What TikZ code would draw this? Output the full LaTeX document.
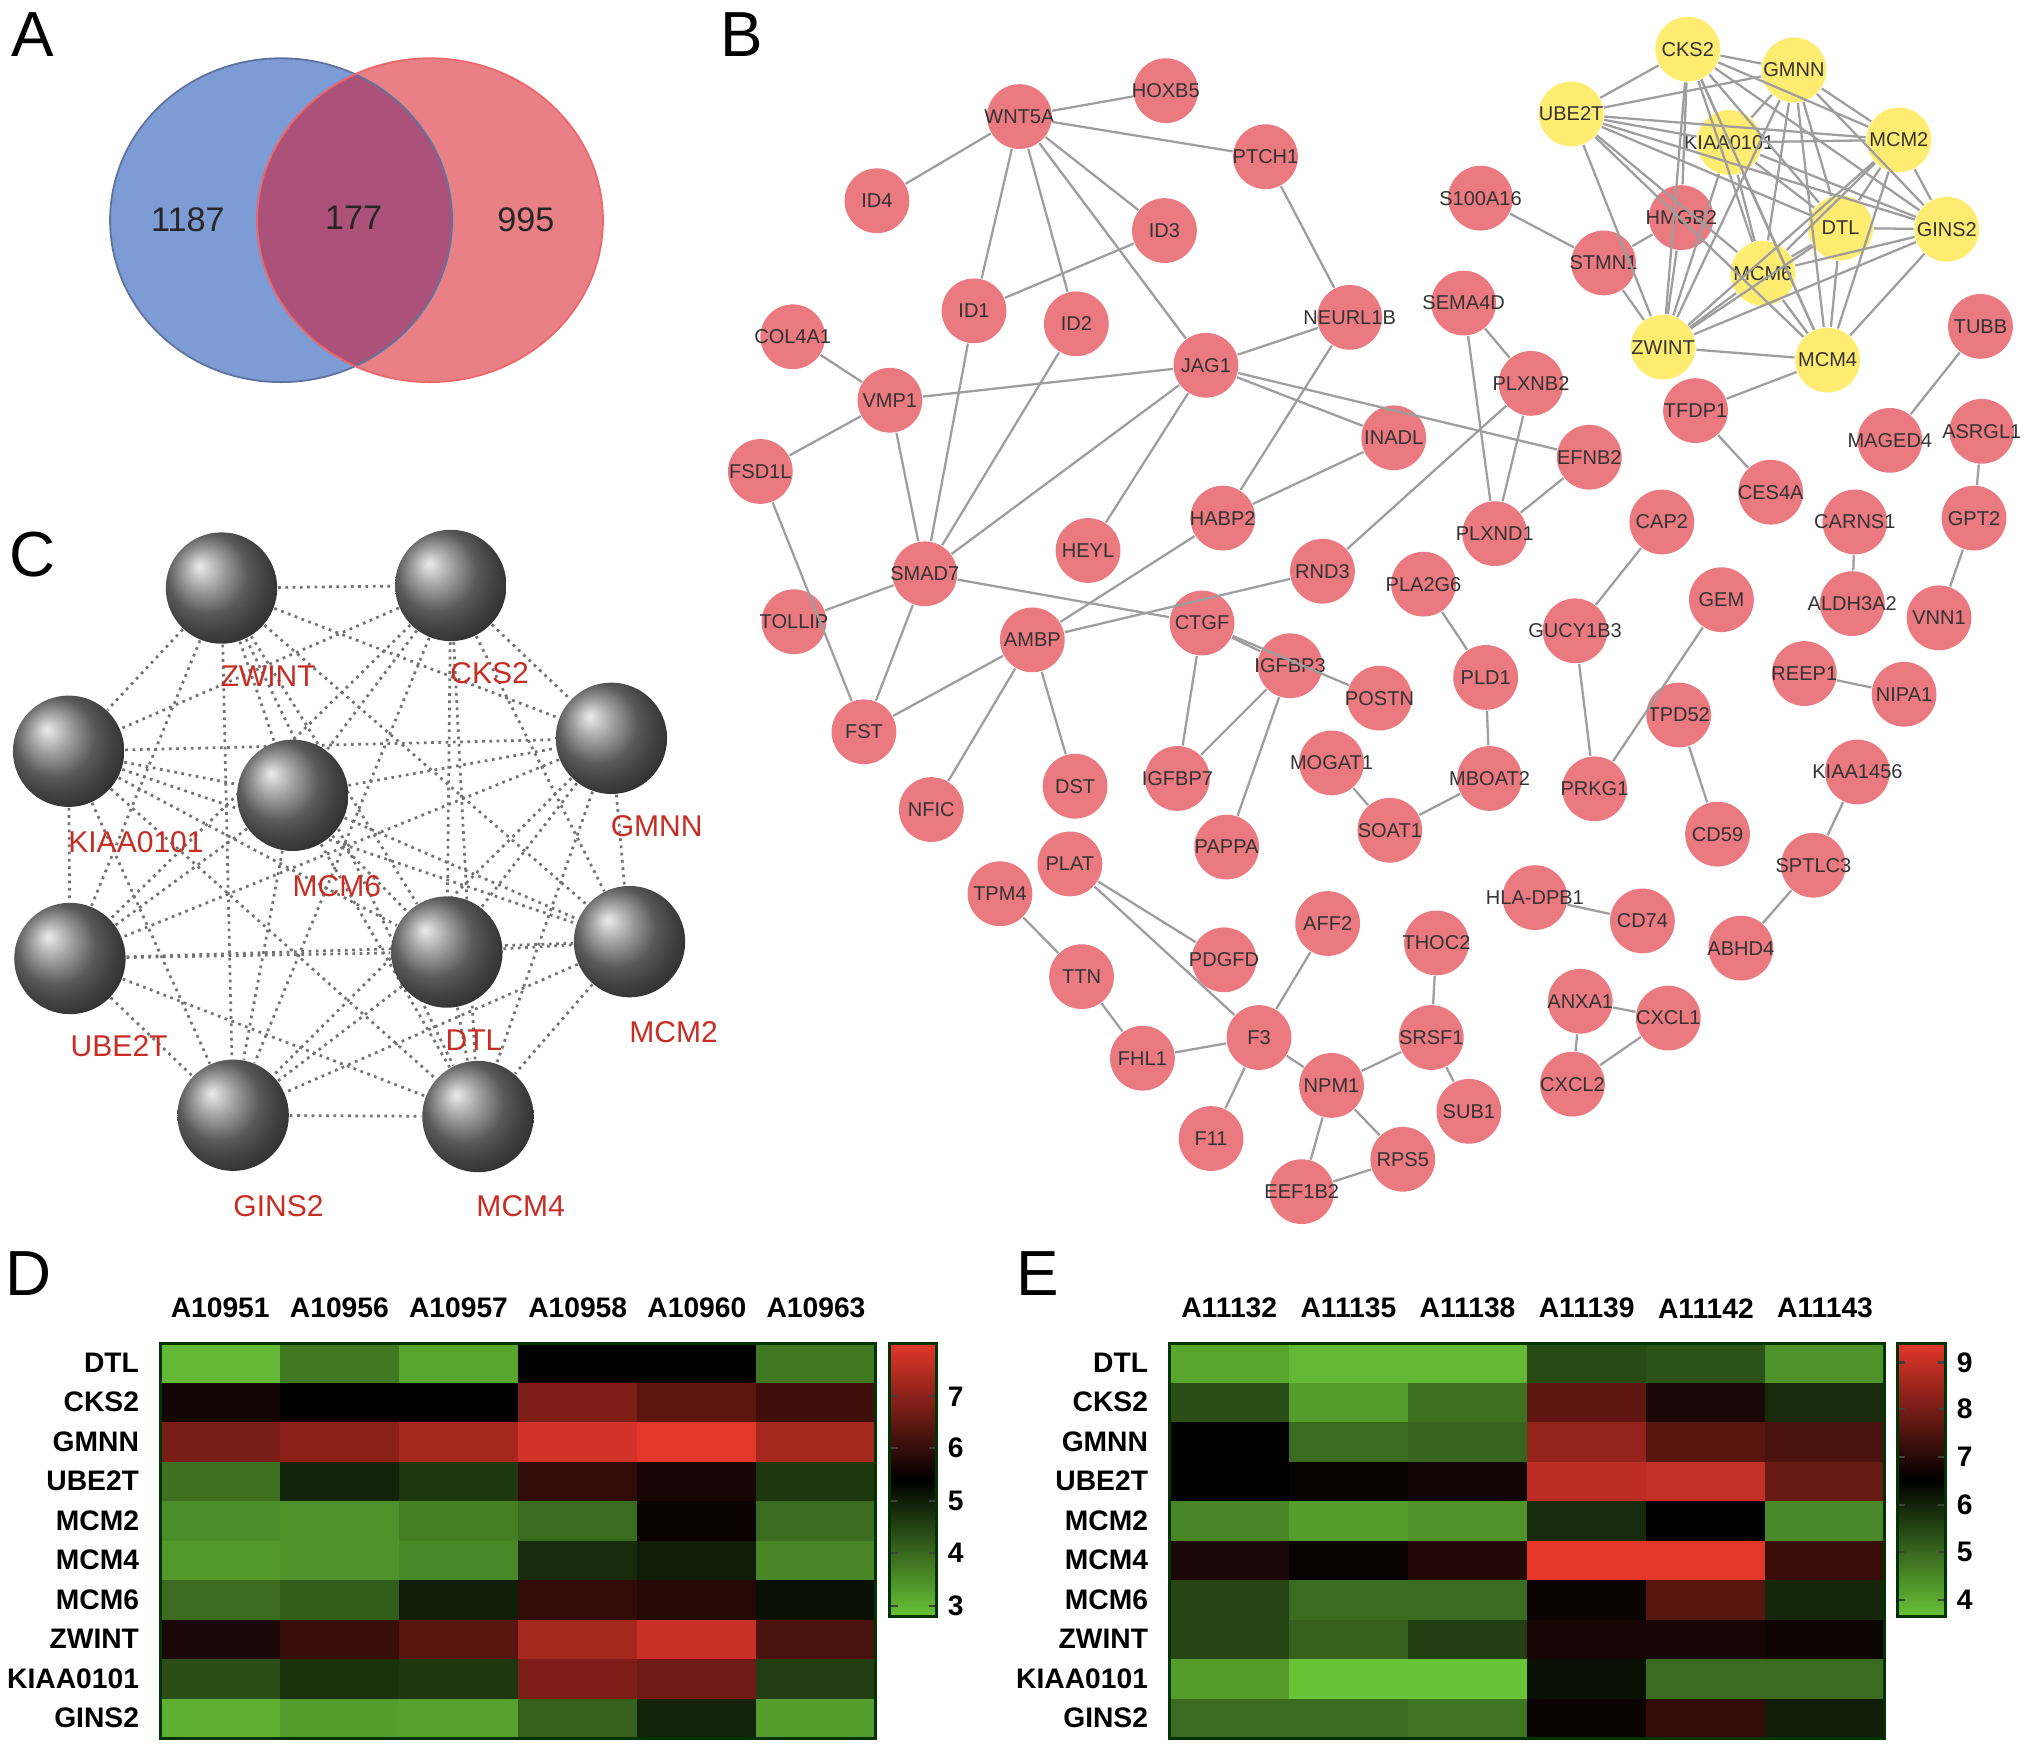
\documentclass[tikz,border=0pt]{standalone}
\usepackage{fontspec}
\setmainfont{Liberation Sans}
\usetikzlibrary{shapes,positioning,backgrounds}
\definecolor{genered}{RGB}{234,122,128}
\definecolor{hubyellow}{RGB}{255,236,112}
\definecolor{linkgray}{RGB}{158,158,158}
\definecolor{namered}{RGB}{200,45,35}
\definecolor{hmg}{RGB}{105,195,55}
\definecolor{hmr}{RGB}{228,55,42}
\definecolor{vennblue}{RGB}{125,155,212}
\definecolor{vennpink}{RGB}{233,128,134}
\definecolor{vennmix}{RGB}{172,82,122}
\tikzstyle{panel} = [font=\fontsize{14}{14}\selectfont, inner sep=0pt]
\tikzstyle{vennnum} = [font=\fontsize{7.5}{8}\selectfont, text=black!85]
\tikzstyle{gene} = [circle, fill=genered, minimum size=5mm, inner sep=0pt,
    text=black!80, font=\fontsize{4.4}{5}\selectfont,
    execute at begin node={\hbox to 0pt\bgroup\hss},
    execute at end node={\hss\egroup}]
\tikzstyle{hub} = [gene, fill=hubyellow]
\tikzstyle{ppi} = [draw=linkgray, line width=0.5pt]
\tikzstyle{hubball} = [circle, minimum size=8.6mm, inner sep=0pt,
    shading=ball, ball color=black!50]
\tikzstyle{hubname} = [text=namered, font=\fontsize{6.6}{7}\selectfont]
\tikzstyle{coexp} = [draw=black!55, line width=0.6pt, densely dotted]
\tikzstyle{hmrow} = [anchor=east, inner sep=0pt, font=\bfseries\fontsize{6.2}{7}\selectfont]
\tikzstyle{hmcol} = [inner sep=0pt, font=\bfseries\fontsize{6.2}{7}\selectfont]
\tikzstyle{hmtick} = [anchor=west, inner sep=0pt, font=\bfseries\fontsize{6.2}{7}\selectfont]
\tikzstyle{cbtick} = [black!75, line width=0.5pt]

\begin{document}
\begin{tikzpicture}[x=0.1mm, y=-0.1mm]
    \useasboundingbox (0,0) rectangle (1568,1353);

    % A: venn
    \node[panel] (labA) at (25,27) {A};
    \fill[vennblue] (217,170) ellipse [x radius=13.2mm, y radius=12.5mm];
    \fill[vennpink] (332,170) ellipse [x radius=13.35mm, y radius=12.5mm];
    \begin{scope}
        \clip (217,170) ellipse [x radius=13.2mm, y radius=12.5mm];
        \fill[vennmix] (332,170) ellipse [x radius=13.35mm, y radius=12.5mm];
    \end{scope}
    \draw[vennblue!75!black, line width=0.4pt] (217,170) ellipse [x radius=13.2mm, y radius=12.5mm];
    \draw[vennpink!80!red, line width=0.4pt] (332,170) ellipse [x radius=13.35mm, y radius=12.5mm];
    \node[vennnum] (nblue) at (145,170) {1187};
    \node[vennnum] (nboth) at (273,168) {177};
    \node[vennnum] (nred) at (406,170) {995};

    % B: network
    \node[panel] (labB) at (573,27) {B};
    \node[gene] (HOXB5) at (900,70) {HOXB5};
    \node[gene] (WNT5A) at (787,90) {WNT5A};
    \node[gene] (PTCH1) at (977,121) {PTCH1};
    \node[gene] (ID4) at (677,155) {ID4};
    \node[gene] (ID3) at (899,178) {ID3};
    \node[gene] (ID1) at (752,240) {ID1};
    \node[gene] (ID2) at (831,250) {ID2};
    \node[gene] (S100A16) at (1143,153) {S100A16};
    \node[gene] (HMGB2) at (1298,168) {HMGB2};
    \node[gene] (STMN1) at (1238,203) {STMN1};
    \node[gene] (SEMA4D) at (1130,234) {SEMA4D};
    \node[gene] (NEURL1B) at (1042,245) {NEURL1B};
    \node[gene] (COL4A1) at (612,260) {COL4A1};
    \node[gene] (JAG1) at (931,282) {JAG1};
    \node[gene] (VMP1) at (687,309) {VMP1};
    \node[gene] (PLXNB2) at (1182,296) {PLXNB2};
    \node[gene] (TFDP1) at (1309,317) {TFDP1};
    \node[gene] (TUBB) at (1529,252) {TUBB};
    \node[gene] (MAGED4) at (1459,340) {MAGED4};
    \node[gene] (ASRGL1) at (1530,333) {ASRGL1};
    \node[gene] (INADL) at (1076,338) {INADL};
    \node[gene] (EFNB2) at (1227,353) {EFNB2};
    \node[gene] (FSD1L) at (587,364) {FSD1L};
    \node[gene] (CES4A) at (1367,380) {CES4A};
    \node[gene] (HABP2) at (944,400) {HABP2};
    \node[gene] (HEYL) at (840,425) {HEYL};
    \node[gene] (PLXND1) at (1154,412) {PLXND1};
    \node[gene] (CAP2) at (1283,403) {CAP2};
    \node[gene] (CARNS1) at (1432,403) {CARNS1};
    \node[gene] (GPT2) at (1524,400) {GPT2};
    \node[gene] (SMAD7) at (714,443) {SMAD7};
    \node[gene] (RND3) at (1021,441) {RND3};
    \node[gene] (PLA2G6) at (1099,451) {PLA2G6};
    \node[gene] (TOLLIP) at (613,480) {TOLLIP};
    \node[gene] (CTGF) at (928,481) {CTGF};
    \node[gene] (AMBP) at (797,494) {AMBP};
    \node[gene] (GUCY1B3) at (1216,487) {GUCY1B3};
    \node[gene] (GEM) at (1329,463) {GEM};
    \node[gene] (ALDH3A2) at (1430,466) {ALDH3A2};
    \node[gene] (VNN1) at (1497,477) {VNN1};
    \node[gene] (IGFBP3) at (996,514) {IGFBP3};
    \node[gene] (POSTN) at (1065,539) {POSTN};
    \node[gene] (PLD1) at (1147,523) {PLD1};
    \node[gene] (REEP1) at (1393,520) {REEP1};
    \node[gene] (NIPA1) at (1470,536) {NIPA1};
    \node[gene] (TPD52) at (1296,552) {TPD52};
    \node[gene] (FST) at (667,565) {FST};
    \node[gene] (DST) at (830,607) {DST};
    \node[gene] (IGFBP7) at (909,601) {IGFBP7};
    \node[gene] (MOGAT1) at (1028,589) {MOGAT1};
    \node[gene] (MBOAT2) at (1150,601) {MBOAT2};
    \node[gene] (PRKG1) at (1231,609) {PRKG1};
    \node[gene] (KIAA1456) at (1434,596) {KIAA1456};
    \node[gene] (NFIC) at (719,625) {NFIC};
    \node[gene] (SOAT1) at (1073,641) {SOAT1};
    \node[gene] (CD59) at (1326,644) {CD59};
    \node[gene] (PAPPA) at (947,654) {PAPPA};
    \node[gene] (PLAT) at (826,667) {PLAT};
    \node[gene] (SPTLC3) at (1400,668) {SPTLC3};
    \node[gene] (TPM4) at (772,690) {TPM4};
    \node[gene] (HLA-DPB1) at (1185,693) {HLA-DPB1};
    \node[gene] (CD74) at (1268,711) {CD74};
    \node[gene] (AFF2) at (1025,713) {AFF2};
    \node[gene] (THOC2) at (1109,728) {THOC2};
    \node[gene] (ABHD4) at (1344,732) {ABHD4};
    \node[gene] (PDGFD) at (945,741) {PDGFD};
    \node[gene] (TTN) at (835,754) {TTN};
    \node[gene] (ANXA1) at (1220,773) {ANXA1};
    \node[gene] (CXCL1) at (1288,786) {CXCL1};
    \node[gene] (SRSF1) at (1105,801) {SRSF1};
    \node[gene] (F3) at (972,801) {F3};
    \node[gene] (FHL1) at (882,817) {FHL1};
    \node[gene] (NPM1) at (1028,838) {NPM1};
    \node[gene] (CXCL2) at (1214,837) {CXCL2};
    \node[gene] (SUB1) at (1134,858) {SUB1};
    \node[gene] (F11) at (935,879) {F11};
    \node[gene] (RPS5) at (1083,895) {RPS5};
    \node[gene] (EEF1B2) at (1005,920) {EEF1B2};

    \node[hub] (CKS2) at (1303,38) {CKS2};
    \node[hub] (GMNN) at (1385,54) {GMNN};
    \node[hub] (UBE2T) at (1213,88) {UBE2T};
    \node[hub] (KIAA0101) at (1335,110) {KIAA0101};
    \node[hub] (MCM2) at (1466,108) {MCM2};
    \node[hub] (DTL) at (1421,176) {DTL};
    \node[hub] (GINS2) at (1503,177) {GINS2};
    \node[hub] (MCM6) at (1361,211) {MCM6};
    \node[hub] (ZWINT) at (1284,268) {ZWINT};
    \node[hub] (MCM4) at (1411,278) {MCM4};

    \path[ppi] (WNT5A) -- (HOXB5);
    \path[ppi] (WNT5A) -- (PTCH1);
    \path[ppi] (WNT5A) -- (ID4);
    \path[ppi] (WNT5A) -- (ID1);
    \path[ppi] (WNT5A) -- (ID2);
    \path[ppi] (WNT5A) -- (ID3);
    \path[ppi] (WNT5A) -- (JAG1);
    \path[ppi] (ID3) -- (ID1);
    \path[ppi] (PTCH1) -- (NEURL1B);
    \path[ppi] (COL4A1) -- (VMP1);
    \path[ppi] (VMP1) -- (JAG1);
    \path[ppi] (JAG1) -- (NEURL1B);
    \path[ppi] (JAG1) -- (INADL);
    \path[ppi] (JAG1) -- (EFNB2);
    \path[ppi] (ID1) -- (SMAD7);
    \path[ppi] (ID2) -- (SMAD7);
    \path[ppi] (JAG1) -- (SMAD7);
    \path[ppi] (JAG1) -- (HEYL);
    \path[ppi] (NEURL1B) -- (HABP2);
    \path[ppi] (VMP1) -- (FSD1L);
    \path[ppi] (VMP1) -- (SMAD7);
    \path[ppi] (FSD1L) -- (FST);
    \path[ppi] (SMAD7) -- (TOLLIP);
    \path[ppi] (SMAD7) -- (FST);
    \path[ppi] (SMAD7) -- (CTGF);
    \path[ppi] (AMBP) -- (FST);
    \path[ppi] (AMBP) -- (HABP2);
    \path[ppi] (AMBP) -- (RND3);
    \path[ppi] (AMBP) -- (NFIC);
    \path[ppi] (AMBP) -- (DST);
    \path[ppi] (CTGF) -- (IGFBP3);
    \path[ppi] (CTGF) -- (POSTN);
    \path[ppi] (CTGF) -- (IGFBP7);
    \path[ppi] (IGFBP3) -- (IGFBP7);
    \path[ppi] (IGFBP3) -- (PAPPA);
    \path[ppi] (HABP2) -- (INADL);
    \path[ppi] (RND3) -- (PLXNB2);
    \path[ppi] (MOGAT1) -- (SOAT1);
    \path[ppi] (SEMA4D) -- (PLXND1);
    \path[ppi] (PLXNB2) -- (PLXND1);
    \path[ppi] (SEMA4D) -- (PLXNB2);
    \path[ppi] (PLXND1) -- (EFNB2);
    \path[ppi] (CAP2) -- (GUCY1B3);
    \path[ppi] (GUCY1B3) -- (PRKG1);
    \path[ppi] (GEM) -- (PRKG1);
    \path[ppi] (TPD52) -- (CD59);
    \path[ppi] (PLA2G6) -- (PLD1);
    \path[ppi] (PLD1) -- (MBOAT2);
    \path[ppi] (MBOAT2) -- (SOAT1);
    \path[ppi] (CARNS1) -- (ALDH3A2);
    \path[ppi] (GPT2) -- (VNN1);
    \path[ppi] (ASRGL1) -- (GPT2);
    \path[ppi] (REEP1) -- (NIPA1);
    \path[ppi] (KIAA1456) -- (SPTLC3);
    \path[ppi] (TFDP1) -- (CES4A);
    \path[ppi] (TUBB) -- (MAGED4);
    \path[ppi] (S100A16) -- (STMN1);
    \path[ppi] (STMN1) -- (HMGB2);
    \path[ppi] (STMN1) -- (ZWINT);
    \path[ppi] (HMGB2) -- (CKS2);
    \path[ppi] (HMGB2) -- (ZWINT);
    \path[ppi] (TFDP1) -- (MCM4);
    \path[ppi] (PLAT) -- (PDGFD);
    \path[ppi] (PLAT) -- (F3);
    \path[ppi] (TPM4) -- (TTN);
    \path[ppi] (TTN) -- (FHL1);
    \path[ppi] (FHL1) -- (F3);
    \path[ppi] (AFF2) -- (F3);
    \path[ppi] (F3) -- (NPM1);
    \path[ppi] (F3) -- (F11);
    \path[ppi] (NPM1) -- (SRSF1);
    \path[ppi] (SRSF1) -- (THOC2);
    \path[ppi] (SRSF1) -- (SUB1);
    \path[ppi] (NPM1) -- (EEF1B2);
    \path[ppi] (NPM1) -- (RPS5);
    \path[ppi] (RPS5) -- (EEF1B2);
    \path[ppi] (HLA-DPB1) -- (CD74);
    \path[ppi] (SPTLC3) -- (ABHD4);
    \path[ppi] (ANXA1) -- (CXCL1);
    \path[ppi] (ANXA1) -- (CXCL2);
    \path[ppi] (CXCL1) -- (CXCL2);
    \foreach \a/\i in {CKS2/1,GMNN/2,UBE2T/3,KIAA0101/4,MCM2/5,DTL/6,GINS2/7,MCM6/8,ZWINT/9,MCM4/10}
        \foreach \b/\j in {CKS2/1,GMNN/2,UBE2T/3,KIAA0101/4,MCM2/5,DTL/6,GINS2/7,MCM6/8,ZWINT/9,MCM4/10}
            {\ifnum\j>\i \path[ppi] (\a) -- (\b);\fi}

    % C: hub genes
    \node[panel] (labC) at (25,428) {C};
    \node[hubball] (sZWINT) at (171,454) {};
    \node[hubball] (sCKS2) at (348,452) {};
    \node[hubball] (sKIAA0101) at (53,580) {};
    \node[hubball] (sMCM6) at (226,614) {};
    \node[hubball] (sGMNN) at (472,570) {};
    \node[hubball] (sUBE2T) at (54,740) {};
    \node[hubball] (sDTL) at (345,735) {};
    \node[hubball] (sMCM2) at (486,727) {};
    \node[hubball] (sGINS2) at (180,861) {};
    \node[hubball] (sMCM4) at (369,862) {};
    \node[hubname] (tZWINT) at (207,522) {ZWINT};
    \node[hubname] (tCKS2) at (378,520) {CKS2};
    \node[hubname] (tKIAA0101) at (105,650) {KIAA0101};
    \node[hubname] (tMCM6) at (260,684) {MCM6};
    \node[hubname] (tGMNN) at (507,638) {GMNN};
    \node[hubname] (tUBE2T) at (92,808) {UBE2T};
    \node[hubname] (tDTL) at (366,803) {DTL};
    \node[hubname] (tMCM2) at (520,797) {MCM2};
    \node[hubname] (tGINS2) at (215,931) {GINS2};
    \node[hubname] (tMCM4) at (402,931) {MCM4};
    \begin{pgfonlayer}{background}
    \foreach \a/\i in {ZWINT/1,CKS2/2,KIAA0101/3,MCM6/4,GMNN/5,UBE2T/6,DTL/7,MCM2/8,GINS2/9,MCM4/10}
        \foreach \b/\j in {ZWINT/1,CKS2/2,KIAA0101/3,MCM6/4,GMNN/5,UBE2T/6,DTL/7,MCM2/8,GINS2/9,MCM4/10}
            {\ifnum\j>\i \path[coexp] (s\a) -- (s\b);\fi}
    \end{pgfonlayer}

    % D: heatmap
    \node[panel] (labD) at (22,983) {D};
    \foreach \cells [count=\r from 0] in {
        {hmg!95!black,hmg!62!black,hmg!85!black,black,black,hmg!62!black},
        {hmr!8!black,black,black,hmr!55!black,hmr!40!black,hmr!28!black},
        {hmr!52!black,hmr!60!black,hmr!72!black,hmr!92!black,hmr,hmr!72!black},
        {hmg!58!black,hmg!18!black,hmg!28!black,hmr!22!black,hmr!10!black,hmg!28!black},
        {hmg!72!black,hmg!75!black,hmg!65!black,hmg!55!black,hmr!5!black,hmg!55!black},
        {hmg!78!black,hmg!75!black,hmg!70!black,hmg!22!black,hmg!15!black,hmg!68!black},
        {hmg!55!black,hmg!48!black,hmg!15!black,hmr!22!black,hmr!16!black,hmg!8!black},
        {hmr!12!black,hmr!25!black,hmr!38!black,hmr!72!black,hmr!88!black,hmr!32!black},
        {hmg!40!black,hmg!25!black,hmg!28!black,hmr!55!black,hmr!48!black,hmg!32!black},
        {hmg!90!black,hmg!80!black,hmg!82!black,hmg!50!black,hmg!18!black,hmg!80!black}}
        \foreach \hue [count=\k from 0] in \cells
            \fill[\hue] ({124+92*\k},{1037+30.5*\r}) rectangle +(92.4,30.9);
    \draw[black!80!green, line width=0.6pt] (124,1037) rectangle (676,1342);
    \foreach \g [count=\r from 0] in {DTL,CKS2,GMNN,UBE2T,MCM2,MCM4,MCM6,ZWINT,KIAA0101,GINS2}
        \node[hmrow] (d\g) at (108,{1052+30.5*\r}) {\g};
    \foreach \s [count=\k from 0] in {A10951,A10956,A10957,A10958,A10960,A10963}
        \node[hmcol] (d\s) at ({170+92*\k},1010) {\s};
    \shade[top color=hmr, bottom color=hmg, middle color=black] (687,1037) rectangle (723,1248);
    \draw[black!80!green, line width=0.6pt] (687,1037) rectangle (723,1248);
    \foreach \v/\yy in {7/1078,6/1118,5/1159,4/1199,3/1240} {
        \draw[cbtick] (688,\yy) -- +(5,0);
        \draw[cbtick] (717,\yy) -- +(5,0);
        \node[hmtick] (dtick\v) at (731,\yy) {\v};
    }

    % E: heatmap
    \node[panel] (labE) at (801,983) {E};
    \foreach \cells [count=\r from 0] in {
        {hmg!85!black,hmg!95!black,hmg!95!black,hmg!38!black,hmg!42!black,hmg!75!black},
        {hmg!40!black,hmg!80!black,hmg!58!black,hmr!42!black,hmr!12!black,hmg!22!black},
        {black,hmg!55!black,hmg!52!black,hmr!65!black,hmr!38!black,hmr!32!black},
        {black,hmr!3!black,hmr!8!black,hmr!82!black,hmr!85!black,hmr!45!black},
        {hmg!68!black,hmg!80!black,hmg!75!black,hmg!22!black,black,hmg!70!black},
        {hmr!12!black,hmr!3!black,hmr!15!black,hmr,hmr,hmr!25!black},
        {hmg!35!black,hmg!55!black,hmg!55!black,hmr!5!black,hmr!38!black,hmg!20!black},
        {hmg!35!black,hmg!50!black,hmg!32!black,hmr!10!black,hmr!10!black,hmr!6!black},
        {hmg!80!black,hmg!100!black,hmg!100!black,hmg!8!black,hmg!55!black,hmg!55!black},
        {hmg!55!black,hmg!55!black,hmg!60!black,hmr!5!black,hmr!22!black,hmg!15!black}}
        \foreach \hue [count=\k from 0] in \cells
            \fill[\hue] ({903+92*\k},{1037+30.5*\r}) rectangle +(92.4,30.9);
    \draw[black!80!green, line width=0.6pt] (903,1037) rectangle (1455,1342);
    \foreach \g [count=\r from 0] in {DTL,CKS2,GMNN,UBE2T,MCM2,MCM4,MCM6,ZWINT,KIAA0101,GINS2}
        \node[hmrow] (e\g) at (887,{1052+30.5*\r}) {\g};
    \foreach \s [count=\k from 0] in {A11132,A11135,A11138,A11139,A11142,A11143}
        \node[hmcol] (e\s) at ({949+92*\k},1010) {\s};
    \shade[top color=hmr, bottom color=hmg, middle color=black] (1465,1037) rectangle (1502,1248);
    \draw[black!80!green, line width=0.6pt] (1465,1037) rectangle (1502,1248);
    \foreach \v/\yy in {9/1052,8/1088,7/1125,6/1162,5/1198,4/1235} {
        \draw[cbtick] (1466,\yy) -- +(5,0);
        \draw[cbtick] (1496,\yy) -- +(5,0);
        \node[hmtick] (etick\v) at (1510,\yy) {\v};
    }
\end{tikzpicture}
\end{document}
